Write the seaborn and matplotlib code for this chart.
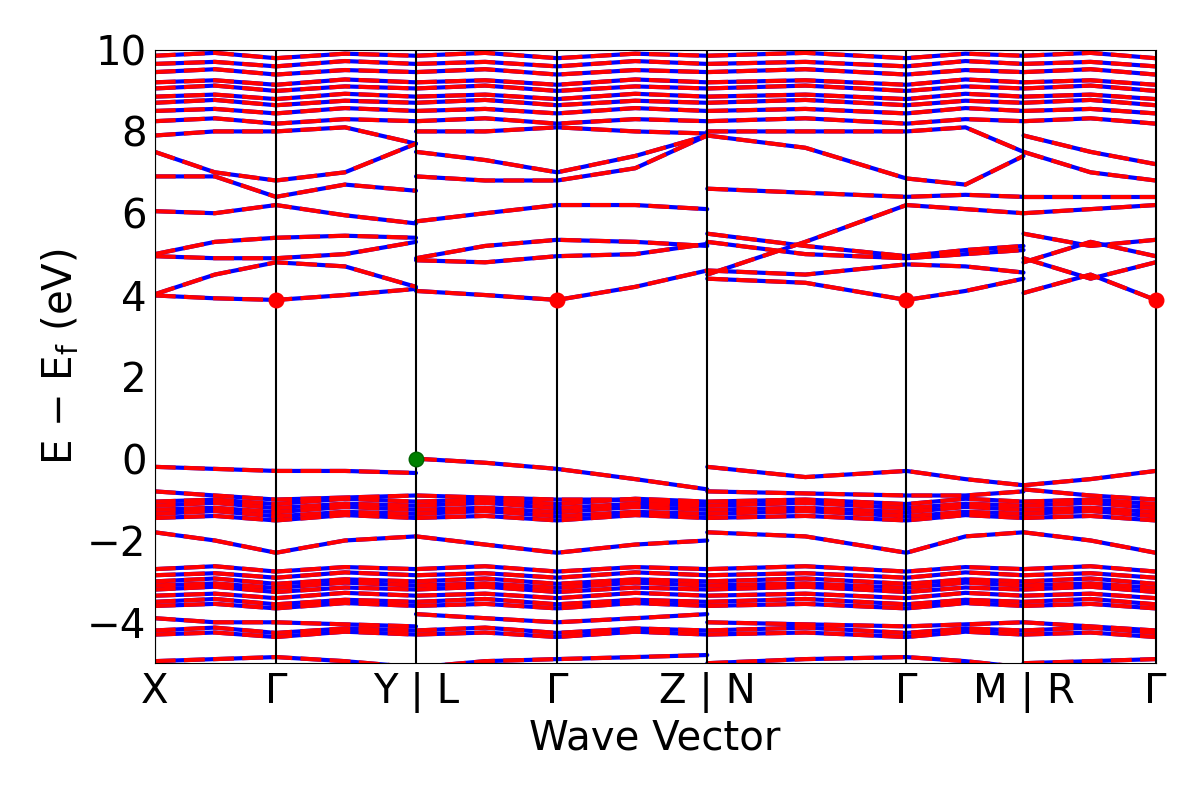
import pandas as pd
import matplotlib
matplotlib.use("Agg")
import matplotlib.pyplot as plt
import seaborn as sns

# high-symmetry positions along the path
kpos = [0.0, 1.21, 2.61, 4.02, 5.52, 7.51, 8.68, 10.0]
klabels = ["X", "Γ", "Y | L", "Γ", "Z | N", "Γ", "M | R", "Γ"]

# knots for each path (start, mid, Γ, mid, end)
path1_x = [0.0, 0.6, 1.21, 1.9, 2.61]
path2_x = [2.61, 3.3, 4.02, 4.8, 5.52]
path3_x = [5.52, 6.5, 7.51, 8.1, 8.68]
path4_x = [8.68, 9.35, 10.0]

path1_bands = [
    [3.99, 3.92, 3.88, 4.0, 4.15], [4.02, 4.5, 4.8, 4.7, 4.2],
    [4.95, 4.9, 4.9, 5.0, 5.3], [5.0, 5.3, 5.4, 5.45, 5.4],
    [6.05, 6.0, 6.2, 5.95, 5.75], [6.9, 6.9, 6.4, 6.7, 6.55],
    [7.5, 7.0, 6.8, 7.0, 7.7], [7.9, 8.0, 8.0, 8.1, 7.7],
    [-0.2, -0.25, -0.3, -0.3, -0.35], [-0.8, -0.9, -1.0, -0.95, -0.9],
    [-1.8, -2.0, -2.3, -2.0, -1.9], [-3.9, -4.0, -4.0, -4.05, -4.1],
    [-4.95, -4.9, -4.85, -4.95, -5.1],
]
path2_bands = [
    [4.1, 4.0, 3.88, 4.2, 4.6], [4.85, 4.8, 4.95, 5.0, 5.25],
    [4.9, 5.2, 5.35, 5.3, 5.2], [5.8, 6.0, 6.2, 6.2, 6.1],
    [6.9, 6.8, 6.8, 7.1, 7.9], [7.5, 7.3, 7.0, 7.4, 7.9],
    [8.0, 8.0, 8.1, 8.0, 7.95],
    [0.0, -0.1, -0.25, -0.5, -0.75], [-0.9, -0.95, -1.0, -1.0, -1.1],
    [-1.9, -2.1, -2.3, -2.1, -2.0], [-3.8, -3.9, -4.0, -3.9, -3.8],
    [-5.1, -4.95, -4.9, -4.85, -4.8],
]
path3_bands = [
    [4.4, 4.3, 3.88, 4.1, 4.4], [4.6, 4.5, 4.75, 4.7, 4.55],
    [4.5, 5.3, 6.2, 6.1, 6.0], [5.5, 5.2, 4.95, 5.1, 5.2],
    [5.3, 5.0, 4.9, 5.0, 5.1], [6.6, 6.5, 6.4, 6.45, 6.4],
    [7.9, 7.6, 6.85, 6.7, 7.4], [8.0, 8.0, 8.0, 8.1, 7.5],
    [-0.2, -0.45, -0.3, -0.5, -0.65], [-0.8, -0.85, -0.9, -0.9, -0.8],
    [-1.8, -1.9, -2.3, -1.9, -1.8], [-4.0, -4.05, -4.1, -4.05, -4.0],
    [-5.0, -4.9, -4.85, -4.95, -5.1],
]
path4_bands = [
    [4.05, 4.5, 3.88], [4.9, 4.4, 4.8], [5.5, 5.2, 5.35], [4.8, 5.3, 4.95],
    [6.0, 6.1, 6.2], [6.4, 6.4, 6.4], [7.5, 7.0, 6.8], [7.9, 7.5, 7.2],
    [-0.65, -0.5, -0.3], [-0.75, -0.9, -1.0], [-1.8, -2.0, -2.3],
    [-4.0, -4.1, -4.2], [-5.0, -4.95, -4.9],
]

# dense, nearly flat band groups shared by all paths
dense_levels = [8.25, 8.5, 8.7, 8.85, 9.05, 9.2, 9.45, 9.65, 9.85,
                -1.05, -1.15, -1.25, -1.35, -1.45,
                -2.7, -2.85, -3.0, -3.1, -3.2, -3.35, -3.5, -3.6,
                -4.2, -4.3]
dense_wiggle = [0.0, 0.07, -0.06, 0.05, 0.0]

cbm_x = [1.21, 4.02, 7.51, 10.0]
cbm_y = [3.88, 3.88, 3.88, 3.88]
vbm_x = [2.61]
vbm_y = [0.0]

rows = []
bid = 0
for xs, bands in [(path1_x, path1_bands), (path2_x, path2_bands),
                  (path3_x, path3_bands), (path4_x, path4_bands)]:
    all_bands = list(bands)
    for i, lev in enumerate(dense_levels):
        w = dense_wiggle if i % 2 == 0 else dense_wiggle[::-1]
        all_bands.append([lev + w[j % len(w)] for j in range(len(xs))])
    for b in all_bands:
        for x, e in zip(xs, b):
            rows.append({"k": x, "E": e, "band": bid})
        bid += 1
df = pd.DataFrame(rows)

sns.set_style("white")
plt.rcParams["font.family"] = ["DejaVu Sans"]
plt.rcParams["text.color"] = "black"
plt.rcParams["axes.labelcolor"] = "black"
plt.rcParams["xtick.color"] = "black"
plt.rcParams["ytick.color"] = "black"
fig = plt.figure(figsize=(12, 8), dpi=100)
ax = fig.add_axes([0.129, 0.171, 0.834, 0.767])

sns.lineplot(data=df, x="k", y="E", units="band", estimator=None, sort=False,
             color="blue", lw=3, ax=ax)
sns.lineplot(data=df, x="k", y="E", units="band", estimator=None, sort=False,
             color="red", lw=3, ax=ax, linestyle=(0, (5, 2)))

for x in kpos:
    ax.axvline(x, color="black", lw=1.5)
ax.scatter(cbm_x, cbm_y, s=110, color="red", zorder=5, clip_on=False)
ax.scatter(vbm_x, vbm_y, s=110, color="green", edgecolor="darkgreen", zorder=5)

ax.set_xlim(kpos[0], kpos[-1])
ax.set_ylim(-5, 10)
ax.set_xticks(kpos)
ax.set_xticklabels(klabels)
ax.set_yticks([-4, -2, 0, 2, 4, 6, 8, 10])
ax.set_yticklabels(["−4", "−2", "0", "2", "4", "6", "8", "10"])
ax.tick_params(labelsize=29, length=0, pad=6)
ax.set_xlabel("Wave Vector", fontsize=29)
ax.set_ylabel(r"E $-$ E$_\mathrm{f}$ (eV)", fontsize=29)
for s in ax.spines.values():
    s.set_color("black")

fig.savefig("out.png", dpi=100)
